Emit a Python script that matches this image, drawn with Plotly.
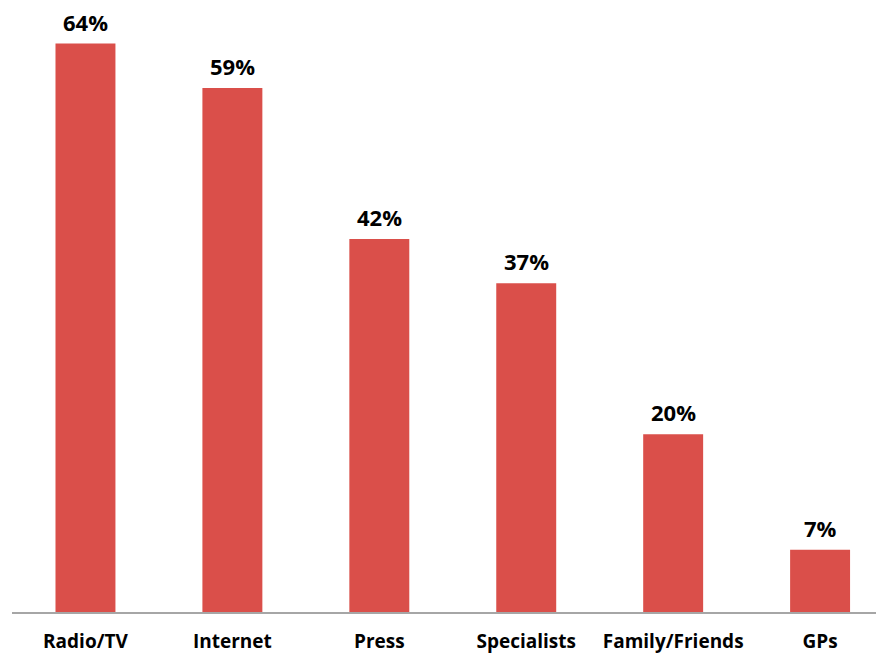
import plotly.graph_objects as go

categories = ["Radio/TV", "Internet", "Press", "Specialists", "Family/Friends", "GPs"]
values = [64, 59, 42, 37, 20, 7]
labels = [f"{v}%" for v in values]

fig = go.Figure(go.Bar(
    x=categories, y=values,
    marker=dict(color="#DA4F4A", line=dict(width=0)),
    cliponaxis=False,
))
for c, v, t in zip(categories, values, labels):
    fig.add_annotation(
        x=c, y=v, text=t, showarrow=False, yanchor="bottom", yshift=5,
        font=dict(family="Open Sans", size=22, color="#000000", weight="bold"),
    )
fig.update_layout(
    width=876, height=645,
    margin=dict(l=4, r=0, t=0, b=41),
    paper_bgcolor="white", plot_bgcolor="white",
    bargap=0.592, showlegend=False,
)
fig.update_xaxes(
    range=[-0.5, 5.435], showgrid=False, showline=True, linecolor="#A6A6A6", linewidth=1.5,
    ticks="", tickfont=dict(family="Open Sans", size=19, color="#000000", weight="bold"),
    ticklabelstandoff=11, automargin=False,
)
fig.update_yaxes(range=[0, 68], visible=False)
fig.write_html("out.html")
